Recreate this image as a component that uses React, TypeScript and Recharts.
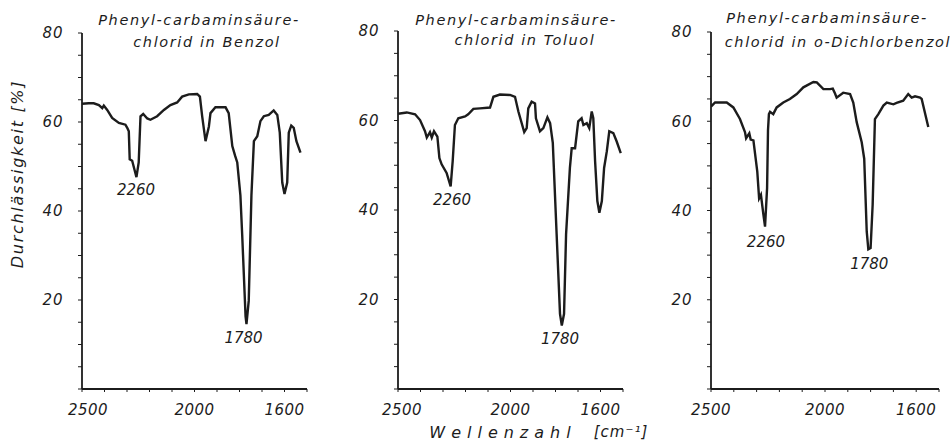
import React from 'react';
import { LineChart, Line, XAxis, YAxis, ReferenceDot } from 'recharts';

// ---- data (wavenumber [cm^-1], transmission [%]) ----
const benzolWn = [2500, 2470, 2448, 2425, 2410, 2403, 2388, 2366, 2336, 2307, 2299, 2292, 2288, 2277, 2258, 2248, 2240, 2228, 2210, 2196, 2166, 2136, 2107, 2077, 2055, 2025, 1988, 1976, 1966, 1951, 1936, 1929, 1907, 1862, 1848, 1832, 1820, 1810, 1796, 1788, 1773, 1769, 1759, 1747, 1736, 1721, 1707, 1692, 1670, 1648, 1632, 1621, 1610, 1600, 1588, 1581, 1570, 1559, 1547, 1529];
const benzolT = [64.1, 64.2, 64.2, 63.8, 63.1, 63.7, 62.7, 60.9, 59.8, 59.4, 58.7, 57.9, 51.6, 51.3, 47.6, 50.9, 61.3, 61.8, 60.8, 60.5, 61.3, 62.7, 63.8, 64.4, 65.7, 66.2, 66.3, 65.7, 61.3, 55.7, 59.0, 62.0, 63.3, 63.3, 62.0, 54.6, 52.5, 50.9, 43.5, 34.6, 16.3, 14.6, 19.8, 43.5, 55.7, 56.8, 60.2, 61.3, 61.6, 62.6, 61.6, 57.6, 46.4, 43.8, 46.4, 57.6, 59.2, 58.7, 55.7, 53.1];

const toluolWn = [2500, 2461, 2424, 2402, 2380, 2372, 2358, 2350, 2340, 2325, 2316, 2306, 2284, 2266, 2257, 2247, 2232, 2202, 2188, 2165, 2136, 2091, 2076, 2047, 2002, 1980, 1965, 1939, 1928, 1921, 1906, 1891, 1887, 1869, 1854, 1836, 1824, 1812, 1795, 1780, 1772, 1762, 1753, 1736, 1728, 1713, 1699, 1684, 1676, 1661, 1650, 1639, 1632, 1624, 1614, 1605, 1594, 1584, 1572, 1561, 1543, 1528, 1510];
const toluolT = [61.5, 61.8, 61.4, 60.1, 57.6, 56.2, 57.4, 56.2, 57.6, 56.4, 51.6, 50.2, 48.3, 45.3, 50.9, 59.0, 60.5, 60.9, 61.4, 62.6, 62.7, 62.9, 65.3, 65.8, 65.7, 65.3, 62.0, 57.4, 58.3, 62.7, 64.2, 63.8, 60.5, 57.6, 58.3, 60.7, 59.4, 55.0, 34.6, 16.8, 14.2, 16.8, 34.6, 49.4, 53.8, 53.8, 59.8, 60.5, 59.0, 59.4, 58.3, 62.0, 60.5, 50.9, 42.0, 39.4, 42.0, 49.4, 53.1, 57.6, 57.2, 55.3, 52.7];

const dichlorWn = [2500, 2482, 2431, 2402, 2373, 2351, 2346, 2332, 2326, 2314, 2297, 2289, 2281, 2270, 2263, 2254, 2250, 2246, 2241, 2227, 2212, 2183, 2154, 2124, 2095, 2051, 2036, 2007, 1978, 1966, 1956, 1949, 1920, 1890, 1876, 1861, 1839, 1828, 1817, 1810, 1800, 1791, 1781, 1766, 1744, 1729, 1700, 1686, 1657, 1635, 1620, 1605, 1583, 1576, 1547];
const dichlorT = [63.3, 64.2, 64.2, 63.1, 60.5, 57.6, 56.2, 57.3, 55.9, 55.7, 48.7, 42.7, 43.5, 39.0, 36.4, 45.0, 58.0, 61.6, 62.1, 61.6, 63.1, 64.2, 65.0, 66.1, 67.6, 68.8, 68.7, 67.2, 67.2, 67.3, 66.2, 65.3, 66.4, 66.1, 64.2, 59.8, 55.3, 51.6, 35.3, 31.3, 31.6, 41.3, 60.5, 61.6, 63.5, 64.2, 63.8, 64.1, 64.6, 66.1, 65.3, 65.6, 65.3, 65.0, 58.7];

const xTicks = [2500, 2400, 2300, 2200, 2100, 2000, 1900, 1800, 1700, 1600, 1500];
const xTickLabels = [2500, 2000, 1600];
const yTicks = [0, 5, 10, 15, 20, 25, 30, 35, 40, 45, 50, 55, 60, 65, 70, 75, 80];
const yTickLabels = [20, 40, 60, 80];
const peakLabels = ['2260', '1780'];

const titleLine1 = ['Phenyl-carbaminsäure-', 'Phenyl-carbaminsäure-', 'Phenyl-carbaminsäure-'];
const titleLine2 = ['chlorid in Benzol', 'chlorid in Toluol', 'chlorid in o-Dichlorbenzol'];

const FONT = '"DejaVu Sans", sans-serif';
const INK = '#1c1c1c';

const makeRows = (wn: number[], t: number[]) => wn.map((w, i) => ({ wn: w, t: t[i] }));

// layout per panel (plot area in page pixels)
const panels = [
  { rows: makeRows(benzolWn, benzolT), left: 81.5, right: 306.5, top: 33, firstDx: 6,
    peaks: [{ x: 2260, y: 44.7 }, { x: 1782, y: 11.6 }],
    t1: { x: 199, y: 20 }, t2: { x: 207, y: 42 } },
  { rows: makeRows(toluolWn, toluolT), left: 398, right: 623, top: 31, firstDx: 4,
    peaks: [{ x: 2260, y: 42.4 }, { x: 1780, y: 11.3 }],
    t1: { x: 516, y: 20 }, t2: { x: 525, y: 40 } },
  { rows: makeRows(dichlorWn, dichlorT), left: 711, right: 939, top: 32, firstDx: 0,
    peaks: [{ x: 2259, y: 33.1 }, { x: 1806, y: 28 }],
    t1: { x: 827, y: 18 }, t2: { x: 838, y: 42 } },
];
const BOTTOM = 389;

const YTick = (props: any) => {
  const { x, y, payload } = props;
  if (!yTickLabels.includes(payload.value)) return <g />;
  return (
    <text x={x} y={y} dy="0.36em" textAnchor="end" fontFamily={FONT} fontStyle="italic" fontSize={15} fill={INK} letterSpacing={1}>
      {payload.value}
    </text>
  );
};

const makeXTick = (firstDx: number) => (props: any) => {
  const { x, y, payload } = props;
  if (!xTickLabels.includes(payload.value)) return <g />;
  const dx = payload.value === 2500 ? firstDx : 0;
  return (
    <text x={x + dx} y={y} dy="0.71em" textAnchor="middle" fontFamily={FONT} fontStyle="italic" fontSize={15} fill={INK} letterSpacing={0.5}>
      {payload.value}
    </text>
  );
};

const Panel = ({ p }: { p: typeof panels[number] }) => {
  const yAxisW = 70;
  const padTop = 10;
  const padRight = 12;
  const xAxisH = 45;
  const plotW = p.right - p.left;
  const plotH = BOTTOM - p.top;
  const XTick = makeXTick(p.firstDx);
  return (
    <div style={{ position: 'absolute', left: p.left - yAxisW, top: p.top - padTop }}>
      <LineChart width={plotW + yAxisW + padRight} height={plotH + padTop + xAxisH} data={p.rows}
        margin={{ top: padTop, right: padRight, left: 0, bottom: 0 }}>
        <XAxis dataKey="wn" type="number" domain={[1500, 2500]} reversed ticks={xTicks} interval={0}
          allowDataOverflow height={xAxisH} tickSize={3} tickMargin={12}
          axisLine={{ stroke: INK, strokeWidth: 1.8 }} tickLine={{ stroke: INK, strokeWidth: 1 }} tick={<XTick />} />
        <YAxis type="number" domain={[0, 80]} ticks={yTicks} interval={0} width={yAxisW}
          tickSize={4} tickMargin={14.5}
          axisLine={{ stroke: INK, strokeWidth: 1.8 }} tickLine={{ stroke: INK, strokeWidth: 1 }} tick={<YTick />} />
        <Line dataKey="t" type="linear" stroke={INK} strokeWidth={2.4} dot={false} isAnimationActive={false} />
        {p.peaks.map((pk, i) => (
          <ReferenceDot key={i} x={pk.x} y={pk.y} r={0} fill="none" stroke="none"
            label={{ value: peakLabels[i], position: 'center', fontFamily: FONT, fontStyle: 'italic', fontSize: 15, fill: INK }} />
        ))}
      </LineChart>
    </div>
  );
};

export default function App() {
  return (
    <div style={{ position: 'absolute', left: 0, top: 0, width: 950, height: 442, background: '#ffffff', overflow: 'hidden' }}>
      {panels.map((p, i) => <Panel key={i} p={p} />)}
      <svg width={950} height={442} style={{ position: 'absolute', left: 0, top: 0, pointerEvents: 'none' }}>
        {panels.map((p, i) => (
          <g key={i} fontFamily={FONT} fontStyle="italic" fontSize={14.5} fill={INK}>
            <text x={p.t1.x} y={p.t1.y} dy="0.36em" textAnchor="middle" letterSpacing={1.6}>{titleLine1[i]}</text>
            <text x={p.t2.x} y={p.t2.y} dy="0.36em" textAnchor="middle" letterSpacing={1.6}>{titleLine2[i]}</text>
          </g>
        ))}
        <text x={17} y={174} dy="0.36em" textAnchor="middle" transform="rotate(-90 17 174)"
          fontFamily={FONT} fontStyle="italic" fontSize={16} fill={INK} letterSpacing={1.7}>
          Durchlässigkeit [%]
        </text>
        <text x={503} y={432} dy="0.36em" textAnchor="middle" fontFamily={FONT} fontStyle="italic" fontSize={16} fill={INK} letterSpacing={6}>
          Wellenzahl
        </text>
        <text x={621} y={432} dy="0.36em" textAnchor="middle" fontFamily={FONT} fontStyle="italic" fontSize={15} fill={INK} letterSpacing={1}>
          [cm⁻¹]
        </text>
      </svg>
    </div>
  );
}
